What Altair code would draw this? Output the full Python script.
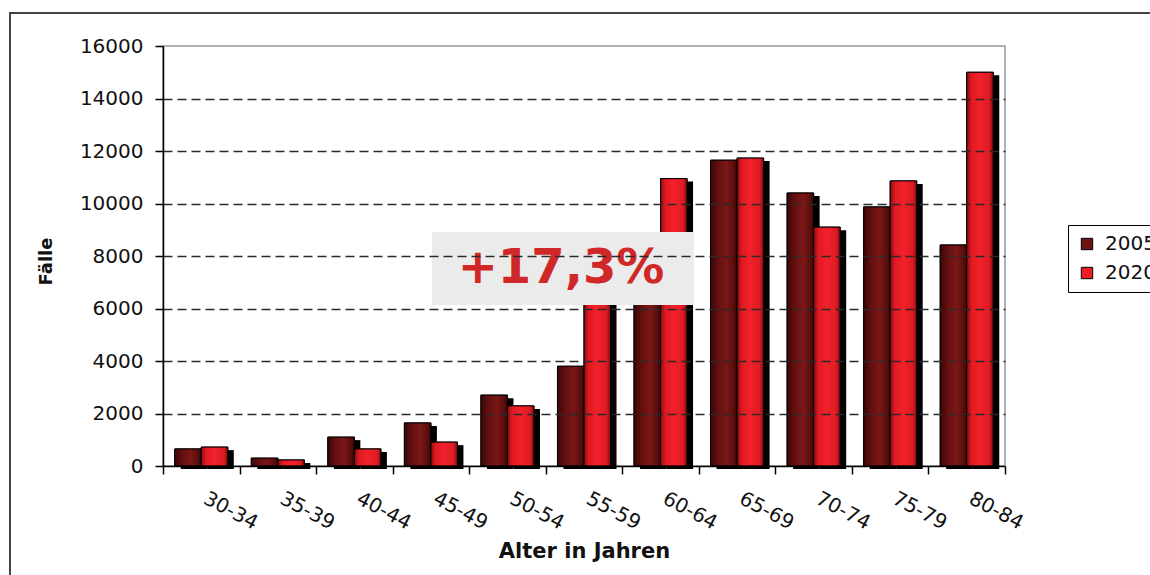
import altair as alt
import pandas as pd

categories = ["30-34", "35-39", "40-44", "45-49", "50-54", "55-59",
              "60-64", "65-69", "70-74", "75-79", "80-84"]
years = ["2005", "2020"]
values_2005 = [650, 300, 1100, 1640, 2700, 3800, 8300, 11650, 10400, 9870, 8420]
values_2020 = [720, 230, 650, 910, 2290, 6600, 10950, 11730, 9100, 10860, 15000]
y_ticks = [0, 2000, 4000, 6000, 8000, 10000, 12000, 14000, 16000]
annotation_text = "+17,3%"
annotation_range = [6130, 8910]

rows = []
for c, a, b in zip(categories, values_2005, values_2020):
    rows.append({"Alter": c, "Jahr": "2005", "Faelle": a})
    rows.append({"Alter": c, "Jahr": "2020", "Faelle": b})
df = pd.DataFrame(rows)

FONT = "DejaVu Sans"
W, H = 842, 420

x_enc = alt.X("Alter:N", sort=categories,
              scale=alt.Scale(paddingInner=0, paddingOuter=0),
              axis=alt.Axis(title="Alter in Jahren", labelAngle=28, labelAlign="left",
                            labelBaseline="top", labelOffset=8, labelPadding=14,
                            tickBand="extent", tickSize=8, tickColor="black",
                            domainColor="black", domainWidth=1.5, tickWidth=1.5,
                            labelFont=FONT, labelFontSize=20, labelColor="#111",
                            titleFont=FONT, titleFontSize=21, titleFontWeight="bold",
                            titleColor="#111", titleY=91, titleBaseline="alphabetic",
                            titleX=W / 2, titleAlign="center", zindex=1))
xo_main = alt.XOffset("Jahr:N", sort=years,
                      scale=alt.Scale(domain=years, paddingInner=0, paddingOuter=0.443,
                                      range=[0, W / 11]))
xo_shadow = alt.XOffset("Jahr:N", sort=years,
                        scale=alt.Scale(domain=years, paddingInner=0, paddingOuter=0.443,
                                        range=[6, W / 11 + 6]))
y_enc = alt.Y("Faelle:Q",
              scale=alt.Scale(domain=[0, 16000], nice=False),
              axis=alt.Axis(title="Fälle", values=y_ticks, format="d",
                            grid=True, gridDash=[9, 5], gridColor="#2a2a2a", gridWidth=1.5,
                            gridOpacity={"condition": {"test": "datum.value >= 16000 || datum.value <= 0", "value": 0}, "value": 1},
                            tickSize=8, tickColor="black", tickWidth=1.5,
                            domainColor="black", domainWidth=1.5,
                            labelFont=FONT, labelFontSize=20, labelColor="#111", labelPadding=12,
                            titleFont=FONT, titleFontSize=18, titleFontWeight="bold",
                            titleColor="#111", titleAngle=270, titleX=-112, titleY=H / 2 + 5,
                            titleAlign="center", titleBaseline="alphabetic", zindex=1))

base = alt.Chart(df)

frame = alt.Chart(pd.DataFrame({"a": [0]})).mark_rect(
    fill=None, stroke="#444", strokeWidth=2
).encode(x=alt.value(-153), x2=alt.value(1300), y=alt.value(-33), y2=alt.value(700))

shadow = base.mark_bar(color="black", yOffset=3).encode(
    x=x_enc, xOffset=xo_shadow, y=y_enc)

bars = base.mark_bar(stroke="black", strokeWidth=1).encode(
    x=x_enc, xOffset=xo_main, y=y_enc,
    color=alt.Color("Jahr:N", sort=years,
                    scale=alt.Scale(domain=years, range=["#6e1212", "#ee1c25"]),
                    legend=alt.Legend(title=None, orient="none", legendX=905, legendY=179,
                                      strokeColor="black", padding=9,
                                      symbolType="square", symbolSize=130,
                                      symbolStrokeColor="black", symbolStrokeWidth=1,
                                      labelFont=FONT, labelFontSize=20, labelColor="#111",
                                      rowPadding=9, labelOffset=8)))

grad_dark = alt.LinearGradient(gradient="linear", x1=0, x2=1, y1=0, y2=0, stops=[
    alt.GradientStop(color="#3a0606", offset=0),
    alt.GradientStop(color="#651010", offset=0.3),
    alt.GradientStop(color="#7c1717", offset=0.6),
    alt.GradientStop(color="#5a0d0d", offset=0.88),
    alt.GradientStop(color="#350505", offset=1)])
grad_bright = alt.LinearGradient(gradient="linear", x1=0, x2=1, y1=0, y2=0, stops=[
    alt.GradientStop(color="#8a0c0c", offset=0),
    alt.GradientStop(color="#e01a22", offset=0.18),
    alt.GradientStop(color="#f2212b", offset=0.5),
    alt.GradientStop(color="#dc1b23", offset=0.86),
    alt.GradientStop(color="#7a0a0a", offset=1)])

over_dark = base.transform_filter(alt.datum.Jahr == "2005").mark_bar(
    fill=grad_dark, stroke="black", strokeWidth=1).encode(x=x_enc, xOffset=xo_main, y=y_enc)
over_bright = base.transform_filter(alt.datum.Jahr == "2020").mark_bar(
    fill=grad_bright, stroke="black", strokeWidth=1).encode(x=x_enc, xOffset=xo_main, y=y_enc)

box = alt.Chart(pd.DataFrame({"Faelle": [annotation_range[0]], "Faelle2": [annotation_range[1]]})).mark_rect(
    fill="#ebebeb").encode(
    x=alt.value(269), x2=alt.value(530),
    y=y_enc, y2="Faelle2:Q")

label = alt.Chart(pd.DataFrame({"t": [annotation_text], "Faelle": [sum(annotation_range) / 2]})).mark_text(
    font=FONT, fontSize=48, fontWeight="bold", color="#d02828",
    align="center", baseline="middle").encode(
    x=alt.value(398), y=y_enc, text="t:N")

chart = alt.layer(frame, shadow, bars, over_dark, over_bright, box, label).resolve_scale(
    xOffset="independent"
).properties(
    width=W, height=H,
    autosize=alt.AutoSizeParams(type="none"),
    padding={"left": 163, "top": 46, "right": 145, "bottom": 109},
    background="white"
).configure_view(stroke="#999", strokeWidth=1.5)

chart.save("out.html", embed_options={"renderer": "svg", "actions": False})
